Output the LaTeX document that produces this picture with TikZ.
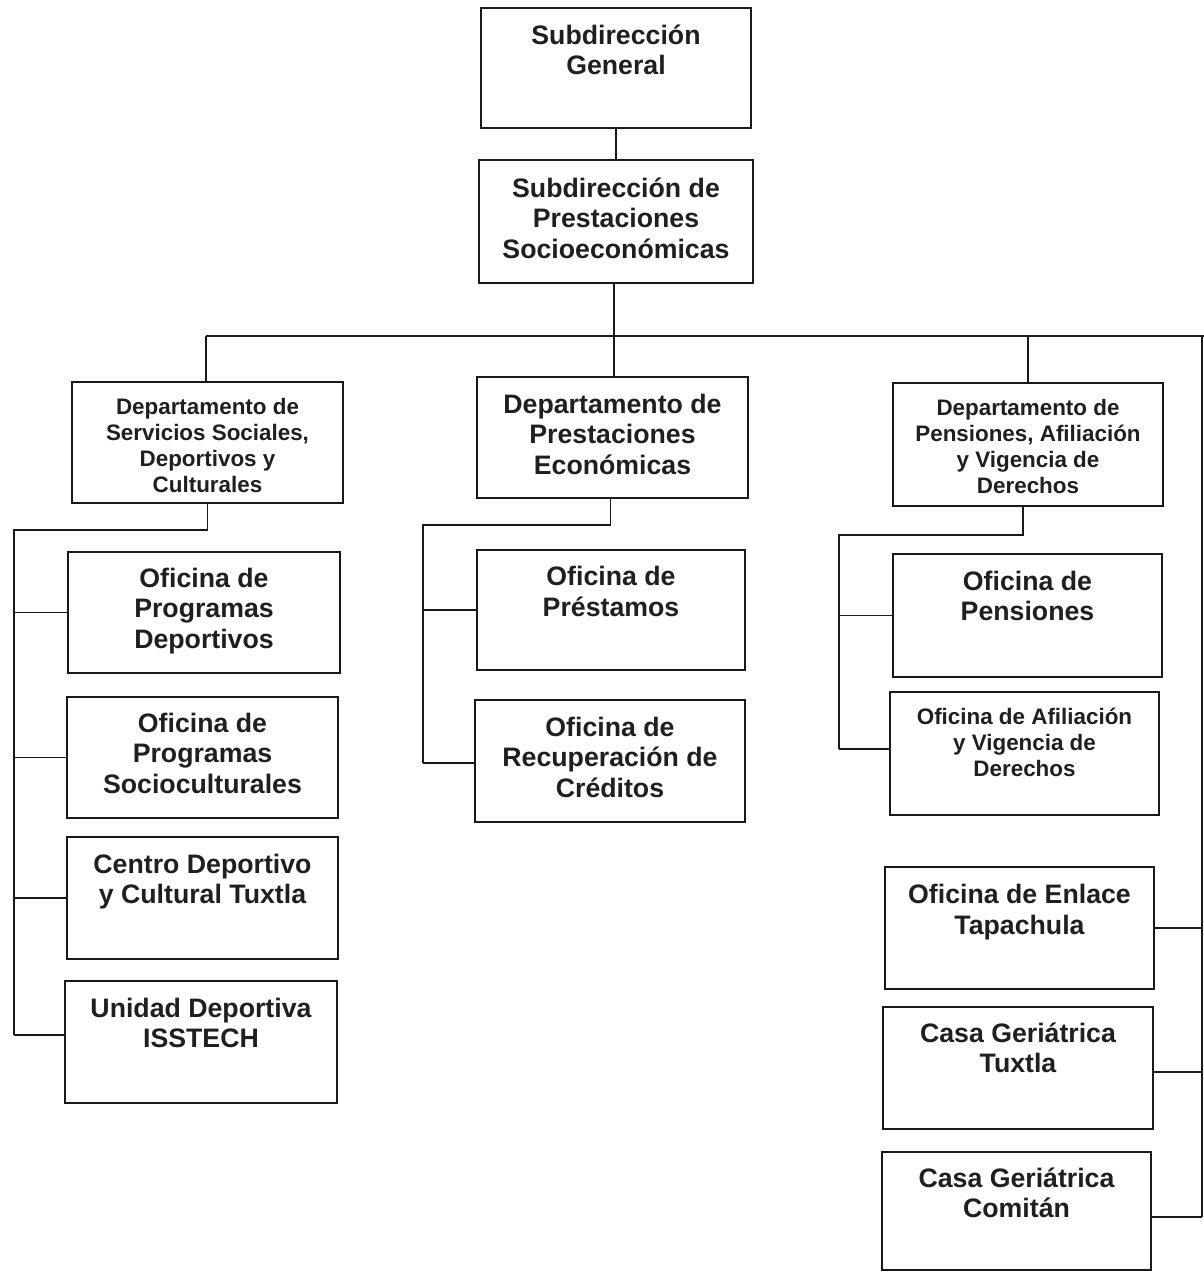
\documentclass[tikz,border=0pt]{standalone}
\usepackage{fontspec}
\setmainfont{Liberation Sans}
\tikzset{
  box/.style={draw=black!90, line width=1.8pt, rectangle, inner sep=0pt, outer sep=0pt},
  big/.style={align=center, inner sep=0pt, font=\bfseries\fontsize{26.7}{30.5}\selectfont, text=black!88},
  small/.style={align=center, inner sep=0pt, font=\bfseries\fontsize{22.4}{26}\selectfont, text=black!88},
  link/.style={draw=black!90, line width=1.5pt}
}
% #1 name, #2 left, #3 top, #4 right, #5 bottom, #6 style, #7 text offset, #8 text
\newcommand\orgbox[8]{%
  \node[box, minimum width={#4pt-#2pt}, minimum height={#5pt-#3pt}] (#1) at ({(#2+#4)/2},{(#3+#5)/2}) {};
  \node[#6, anchor=north] (#1-t) at ([yshift=-#7pt]#1.north) {\rule{0pt}{1.05em}#8};
}
\begin{document}
\begin{tikzpicture}[x=1pt,y=-1pt]
\useasboundingbox (0,0) rectangle (1204,1272);
\fill[white] (0,0) rectangle (1204,1272);

\orgbox{SG}{481}{8}{751}{128}{big}{8}{Subdirección\\General}
\orgbox{SPS}{479}{160}{753}{283}{big}{9}{Subdirección de\\Prestaciones\\Socioeconómicas}

\orgbox{D1}{72}{382}{343}{503}{small}{8.5}{Departamento de\\Servicios Sociales,\\Deportivos y\\Culturales}
\orgbox{D2}{477}{377}{748}{498}{big}{8}{Departamento de\\Prestaciones\\Económicas}
\orgbox{D3}{893}{383}{1163}{506}{small}{8.5}{Departamento de\\Pensiones, Afiliación\\y Vigencia de\\Derechos}

\orgbox{PD}{68}{552}{340}{673}{big}{7}{Oficina de\\Programas\\Deportivos}
\orgbox{PS}{67}{697}{338}{818}{big}{7}{Oficina de\\Programas\\Socioculturales}
\orgbox{CD}{67}{837}{338}{959}{big}{8}{Centro Deportivo\\y Cultural Tuxtla}
\orgbox{UD}{65}{981}{337}{1103}{big}{8}{Unidad Deportiva\\ISSTECH}

\orgbox{OP}{477}{550}{745}{670}{big}{7.5}{Oficina de\\Préstamos}
\orgbox{OR}{475}{700}{745}{822}{big}{8}{Oficina de\\Recuperación de\\Créditos}

\orgbox{OPe}{893}{554}{1162}{677}{big}{8}{Oficina de\\Pensiones}
\orgbox{OA}{890}{692}{1159}{815}{small}{8.5}{Oficina de Afiliación\\y Vigencia de\\Derechos}

\orgbox{OE}{885}{867}{1154}{989}{big}{8.5}{Oficina de Enlace\\Tapachula}
\orgbox{CT}{883}{1007}{1153}{1129}{big}{7}{Casa Geriátrica\\Tuxtla}
\orgbox{CC}{882}{1152}{1151}{1270}{big}{7}{Casa Geriátrica\\Comitán}

% coordinates for buses
\coordinate (busL) at (206,336);
\coordinate (busM) at (614,336);
\coordinate (busR) at (1202,336);
\coordinate (busRend) at (1202,1217);
\coordinate (b1) at (14,530);
\coordinate (b1end) at (14,1035);
\coordinate (b2) at (423,525);
\coordinate (b2end) at (423,763);
\coordinate (b3) at (839,535);
\coordinate (b3end) at (839,749);

% top
\draw[link] (SG) -- (SPS);
\draw[link] (busM |- SPS.south) -- (busM |- D2.north);
\draw[link] (busL) -- (1204,336);
\draw[link] (busR) -- (busRend);
\draw[link] (D1.north -| busL) -- (busL);
\draw[link] (D3.north) -- (D3.north |- busL);

% left group
\draw[link] (D1.south) -- (D1.south |- b1) -- (b1) -- (b1end);
\draw[link] (b1 |- PD.west) -- (PD.west);
\draw[link] (b1 |- PS.west) -- (PS.west);
\draw[link] (b1 |- CD.west) -- (CD.west);
\draw[link] (b1end) -- (b1end -| UD.west);

% middle group
\draw[link] ([xshift=-2pt]D2.south) -- ([xshift=-2pt]D2.south |- b2) -- (b2) -- (b2end);
\draw[link] (b2 |- OP.west) -- (OP.west);
\draw[link] (b2end) -- (b2end -| OR.west);

% right group
\draw[link] ([xshift=-5pt]D3.south) -- ([xshift=-5pt]D3.south |- b3) -- (b3) -- (b3end);
\draw[link] (b3 |- OPe.west) -- (OPe.west);
\draw[link] (b3end) -- (b3end -| OA.west);

% far right
\draw[link] (OE.east) -- (OE.east -| busR);
\draw[link] (CT.east |- 0,1072) -- (busR |- 0,1072);
\draw[link] (CC.east |- busRend) -- (busRend);
\end{tikzpicture}
\end{document}
